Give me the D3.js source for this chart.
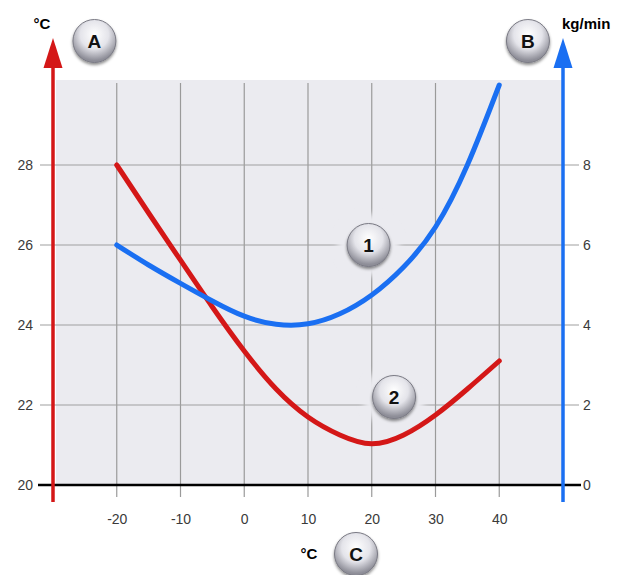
<!DOCTYPE html>
<html>
<head>
<meta charset="utf-8">
<script src="https://cdn.jsdelivr.net/npm/d3@7"></script>
<style>
  body { margin: 0; background: #fff; }
  svg { display: block; font-family: "Liberation Sans", Arial, sans-serif; }
</style>
</head>
<body>
<div id="chart"></div>
<script>
// outside temperature (°C) on the x axis
var xTicks = [-20, -10, 0, 10, 20, 30, 40];
var leftTicks = [20, 22, 24, 26, 28];   // °C  (axis A)
var rightTicks = [0, 2, 4, 6, 8];       // kg/min (axis B)

// curve 1 : kg/min, read against the right axis
var blueX = [-20, -15, -10, -5, 0, 5, 10, 15, 20, 25, 30, 35, 40];
var blueY = [6.0, 5.5, 5.04, 4.6, 4.22, 4.02, 4.03, 4.28, 4.75, 5.45, 6.45, 8.0, 10.0];

// curve 2 : °C, read against the left axis
var redX = [-20, -15, -10, -5, 0, 5, 10, 15, 20, 25, 30, 35, 40];
var redY = [28.0, 26.8, 25.62, 24.45, 23.35, 22.4, 21.7, 21.25, 21.03, 21.25, 21.75, 22.4, 23.1];

var badges = [
  {t: "A", x: -23.5, y: 31.1},
  {t: "B", x: 44.5, y: 31.1},
  {t: "1", x: 19.5, y: 26.0},
  {t: "2", x: 23.5, y: 22.2}
];

var W = 628, H = 575;
var RED = "#d41717", BLUE = "#1a6ff2";

var svg = d3.select("#chart").append("svg")
    .attr("width", W).attr("height", H);

var x = d3.scaleLinear().domain([-30, 50]).range([53, 563]);
var yL = d3.scaleLinear().domain([20, 30]).range([485, 85]);
var yR = d3.scaleLinear().domain([0, 10]).range([485, 85]);

var defs = svg.append("defs");
var grad = defs.append("radialGradient").attr("id", "btn")
    .attr("cx", "50%").attr("cy", "35%").attr("r", "60%");
grad.append("stop").attr("offset", "0%").attr("stop-color", "#ffffff");
grad.append("stop").attr("offset", "55%").attr("stop-color", "#e4e4ea");
grad.append("stop").attr("offset", "100%").attr("stop-color", "#8e8e98");
var sh = defs.append("filter").attr("id", "shadow")
    .attr("x", "-50%").attr("y", "-50%").attr("width", "200%").attr("height", "200%");
sh.append("feDropShadow").attr("dx", 0).attr("dy", 2).attr("stdDeviation", 1.6)
    .attr("flood-color", "#000").attr("flood-opacity", 0.45);
defs.append("filter").attr("id", "soft")
    .append("feGaussianBlur").attr("stdDeviation", 3);

// plot background
svg.append("rect")
    .attr("x", 56).attr("y", 80)
    .attr("width", x(50) - 56).attr("height", yL(20) - 80)
    .attr("fill", "#ebebf0");

// grid
svg.append("g").selectAll("line").data(xTicks).enter().append("line")
    .attr("x1", d => x(d)).attr("x2", d => x(d))
    .attr("y1", 83).attr("y2", 497)
    .attr("stroke", "#9a9a9a").attr("stroke-width", 1.2);
svg.append("g").selectAll("line").data(leftTicks.slice(1)).enter().append("line")
    .attr("x1", 40).attr("x2", 579)
    .attr("y1", d => yL(d)).attr("y2", d => yL(d))
    .attr("stroke", "#a0a0a0").attr("stroke-width", 1.2);

// baseline
svg.append("line")
    .attr("x1", 38).attr("x2", 581).attr("y1", yL(20)).attr("y2", yL(20))
    .attr("stroke", "#000").attr("stroke-width", 2.5);

// tick labels through d3 axes
function styleAxis(g) {
  g.select(".domain").remove();
  g.selectAll("text").attr("font-size", 14).attr("fill", "#3a3a3a");
}
svg.append("g").attr("transform", "translate(40,0)")
    .call(d3.axisLeft(yL).tickValues(leftTicks).tickSize(0).tickPadding(7).tickFormat(d => d))
    .call(styleAxis);
svg.append("g").attr("transform", "translate(579,0)")
    .call(d3.axisRight(yR).tickValues(rightTicks).tickSize(0).tickPadding(4).tickFormat(d => d))
    .call(styleAxis);
svg.append("g").attr("transform", "translate(0,514)")
    .call(d3.axisBottom(x).tickValues(xTicks).tickSize(0).tickPadding(0).tickFormat(d => d))
    .call(styleAxis);
svg.selectAll(".tick text").attr("font-family", "'Liberation Sans', Arial, sans-serif");

// vertical axes with arrows
function vAxis(px, color) {
  svg.append("line").attr("x1", px).attr("x2", px).attr("y1", 502).attr("y2", 62)
      .attr("stroke", color).attr("stroke-width", 3.5);
  svg.append("path")
      .attr("d", "M" + px + ",38 L" + (px + 9.5) + ",68 L" + (px - 9.5) + ",68 Z")
      .attr("fill", color);
}
vAxis(x(-30), RED);
vAxis(x(50), BLUE);

// curves
var line = d3.line().curve(d3.curveNatural);
svg.append("path")
    .attr("d", line(redX.map((d, i) => [x(d), yL(redY[i])])))
    .attr("fill", "none").attr("stroke", RED).attr("stroke-width", 5)
    .attr("stroke-linecap", "round");
svg.append("path")
    .attr("d", line(blueX.map((d, i) => [x(d), yR(blueY[i])])))
    .attr("fill", "none").attr("stroke", BLUE).attr("stroke-width", 5)
    .attr("stroke-linecap", "round");

// unit labels
svg.append("text").attr("x", 42).attr("y", 29).attr("text-anchor", "middle")
    .attr("font-size", 15).attr("font-weight", "bold").text("°C");
svg.append("text").attr("x", 562).attr("y", 29)
    .attr("font-size", 15).attr("font-weight", "bold").text("kg/min");
svg.append("text").attr("x", 309).attr("y", 559).attr("text-anchor", "middle")
    .attr("font-size", 15).attr("font-weight", "bold").text("°C");

// round badges
function badge(cx, cy, t, halo) {
  var g = svg.append("g").attr("transform", "translate(" + cx + "," + cy + ")");
  if (halo) g.append("circle").attr("r", 31).attr("fill", "#ebebf0").attr("filter", "url(#soft)");
  g.append("circle").attr("r", 21.5).attr("fill", "url(#btn)")
      .attr("stroke", "#7a7a84").attr("stroke-width", 1).attr("filter", "url(#shadow)");
  g.append("text").attr("y", 7).attr("text-anchor", "middle")
      .attr("font-size", 19).attr("font-weight", "bold").attr("fill", "#111").text(t);
}
badges.forEach(function(b) {
  var inside = b.t === "1" || b.t === "2";
  badge(x(b.x), yL(b.y), b.t, inside);
});
badge(356, 554, "C", false);
</script>
</body>
</html>
